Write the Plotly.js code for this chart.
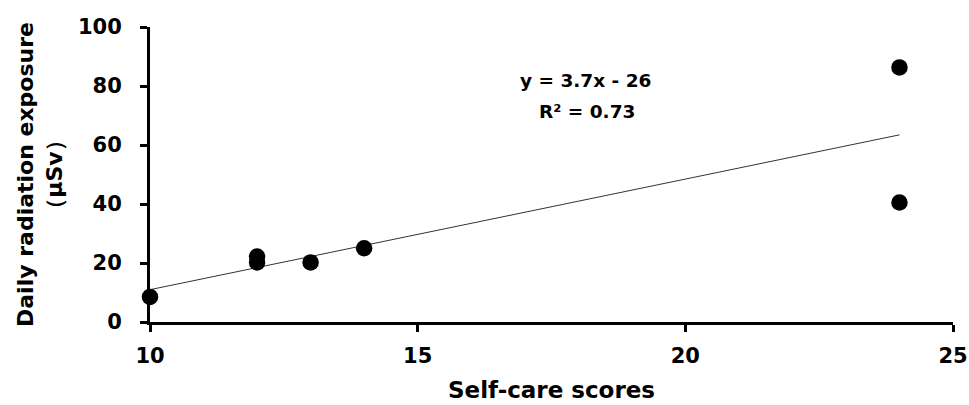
<!DOCTYPE html>
<html>
<head>
<meta charset="utf-8">
<script src="https://cdn.plot.ly/plotly-3.0.1.min.js"></script>
<style>html,body{margin:0;padding:0;background:#fff;}#chart{width:969px;height:405px;}</style>
</head>
<body>
<div id="chart"></div>
<script>
const selfCareScores = [10, 12, 12, 13, 14, 24, 24];
const dailyExposure = [8.5, 22.2, 20.2, 20.2, 25.0, 86.3, 40.5];
const xTickValues = [10, 15, 20, 25];
const yTickValues = [0, 20, 40, 60, 80, 100];
const xTitleText = "Self-care scores";
const equationText = "y = 3.7x - 26";
const r2Text = "R² = 0.73";

// least-squares trendline from the data
const n = selfCareScores.length;
const mx = selfCareScores.reduce((a, b) => a + b, 0) / n;
const my = dailyExposure.reduce((a, b) => a + b, 0) / n;
let sxy = 0, sxx = 0;
for (let i = 0; i < n; i++) {
  sxy += (selfCareScores[i] - mx) * (dailyExposure[i] - my);
  sxx += (selfCareScores[i] - mx) ** 2;
}
const slope = sxy / sxx;
const intercept = my - slope * mx;
const xMin = Math.min(...selfCareScores), xMax = Math.max(...selfCareScores);
const trendX = [xMin, xMax];
const trendY = trendX.map(x => slope * x + intercept);

const font = "DejaVu Sans, Arial, sans-serif";

const data = [
  {x: trendX, y: trendY, type: 'scatter', mode: 'lines',
   line: {color: '#333', width: 1}, hoverinfo: 'skip', showlegend: false},
  {x: selfCareScores, y: dailyExposure, type: 'scatter', mode: 'markers',
   marker: {color: '#000', size: 16.5}, cliponaxis: false, showlegend: false}
];

const layout = {
  width: 969, height: 405,
  margin: {l: 150, r: 16, t: 27, b: 83},
  paper_bgcolor: '#fff', plot_bgcolor: '#fff',
  font: {family: font, color: '#000'},
  showlegend: false,
  xaxis: {
    range: [10, 25], tickvals: xTickValues, ticktext: xTickValues.map(String),
    showgrid: false, zeroline: false, showline: true, linecolor: '#000', linewidth: 3,
    ticks: 'outside', ticklen: 7, tickwidth: 3, tickcolor: '#000',
    tickfont: {family: font, size: 21, weight: 'bold', color: '#000'},
    ticklabelstandoff: 6
  },
  yaxis: {
    range: [0, 100], tickvals: yTickValues, ticktext: yTickValues.map(String),
    showgrid: false, zeroline: false, showline: true, linecolor: '#000', linewidth: 3,
    ticks: 'outside', ticklen: 7, tickwidth: 3, tickcolor: '#000',
    tickfont: {family: font, size: 21, weight: 'bold', color: '#000'},
    ticklabelstandoff: 14,
    title: {text: '<b>Daily radiation exposure</b><br><b>（μSv）</b>', font: {family: font, size: 22, color: '#000'}, standoff: 10}
  },
  annotations: [
    {xref: 'paper', yref: 'paper', x: 0.5, y: -0.232, xanchor: 'center', yanchor: 'middle',
     text: '<b>' + xTitleText + '</b>', showarrow: false, borderpad: 0,
     font: {family: font, size: 23, color: '#000'}},
    {xref: 'x', yref: 'y', x: 18.14, y: 82, xanchor: 'center', yanchor: 'middle',
     text: '<b>' + equationText + '</b>', showarrow: false,
     font: {family: font, size: 18.5, color: '#000'}},
    {xref: 'x', yref: 'y', x: 18.16, y: 71.2, xanchor: 'center', yanchor: 'middle',
     text: '<b>' + r2Text + '</b>', showarrow: false,
     font: {family: font, size: 18.5, color: '#000'}}
  ]
};

Plotly.newPlot('chart', data, layout, {displayModeBar: false, staticPlot: true});
</script>
</body>
</html>
